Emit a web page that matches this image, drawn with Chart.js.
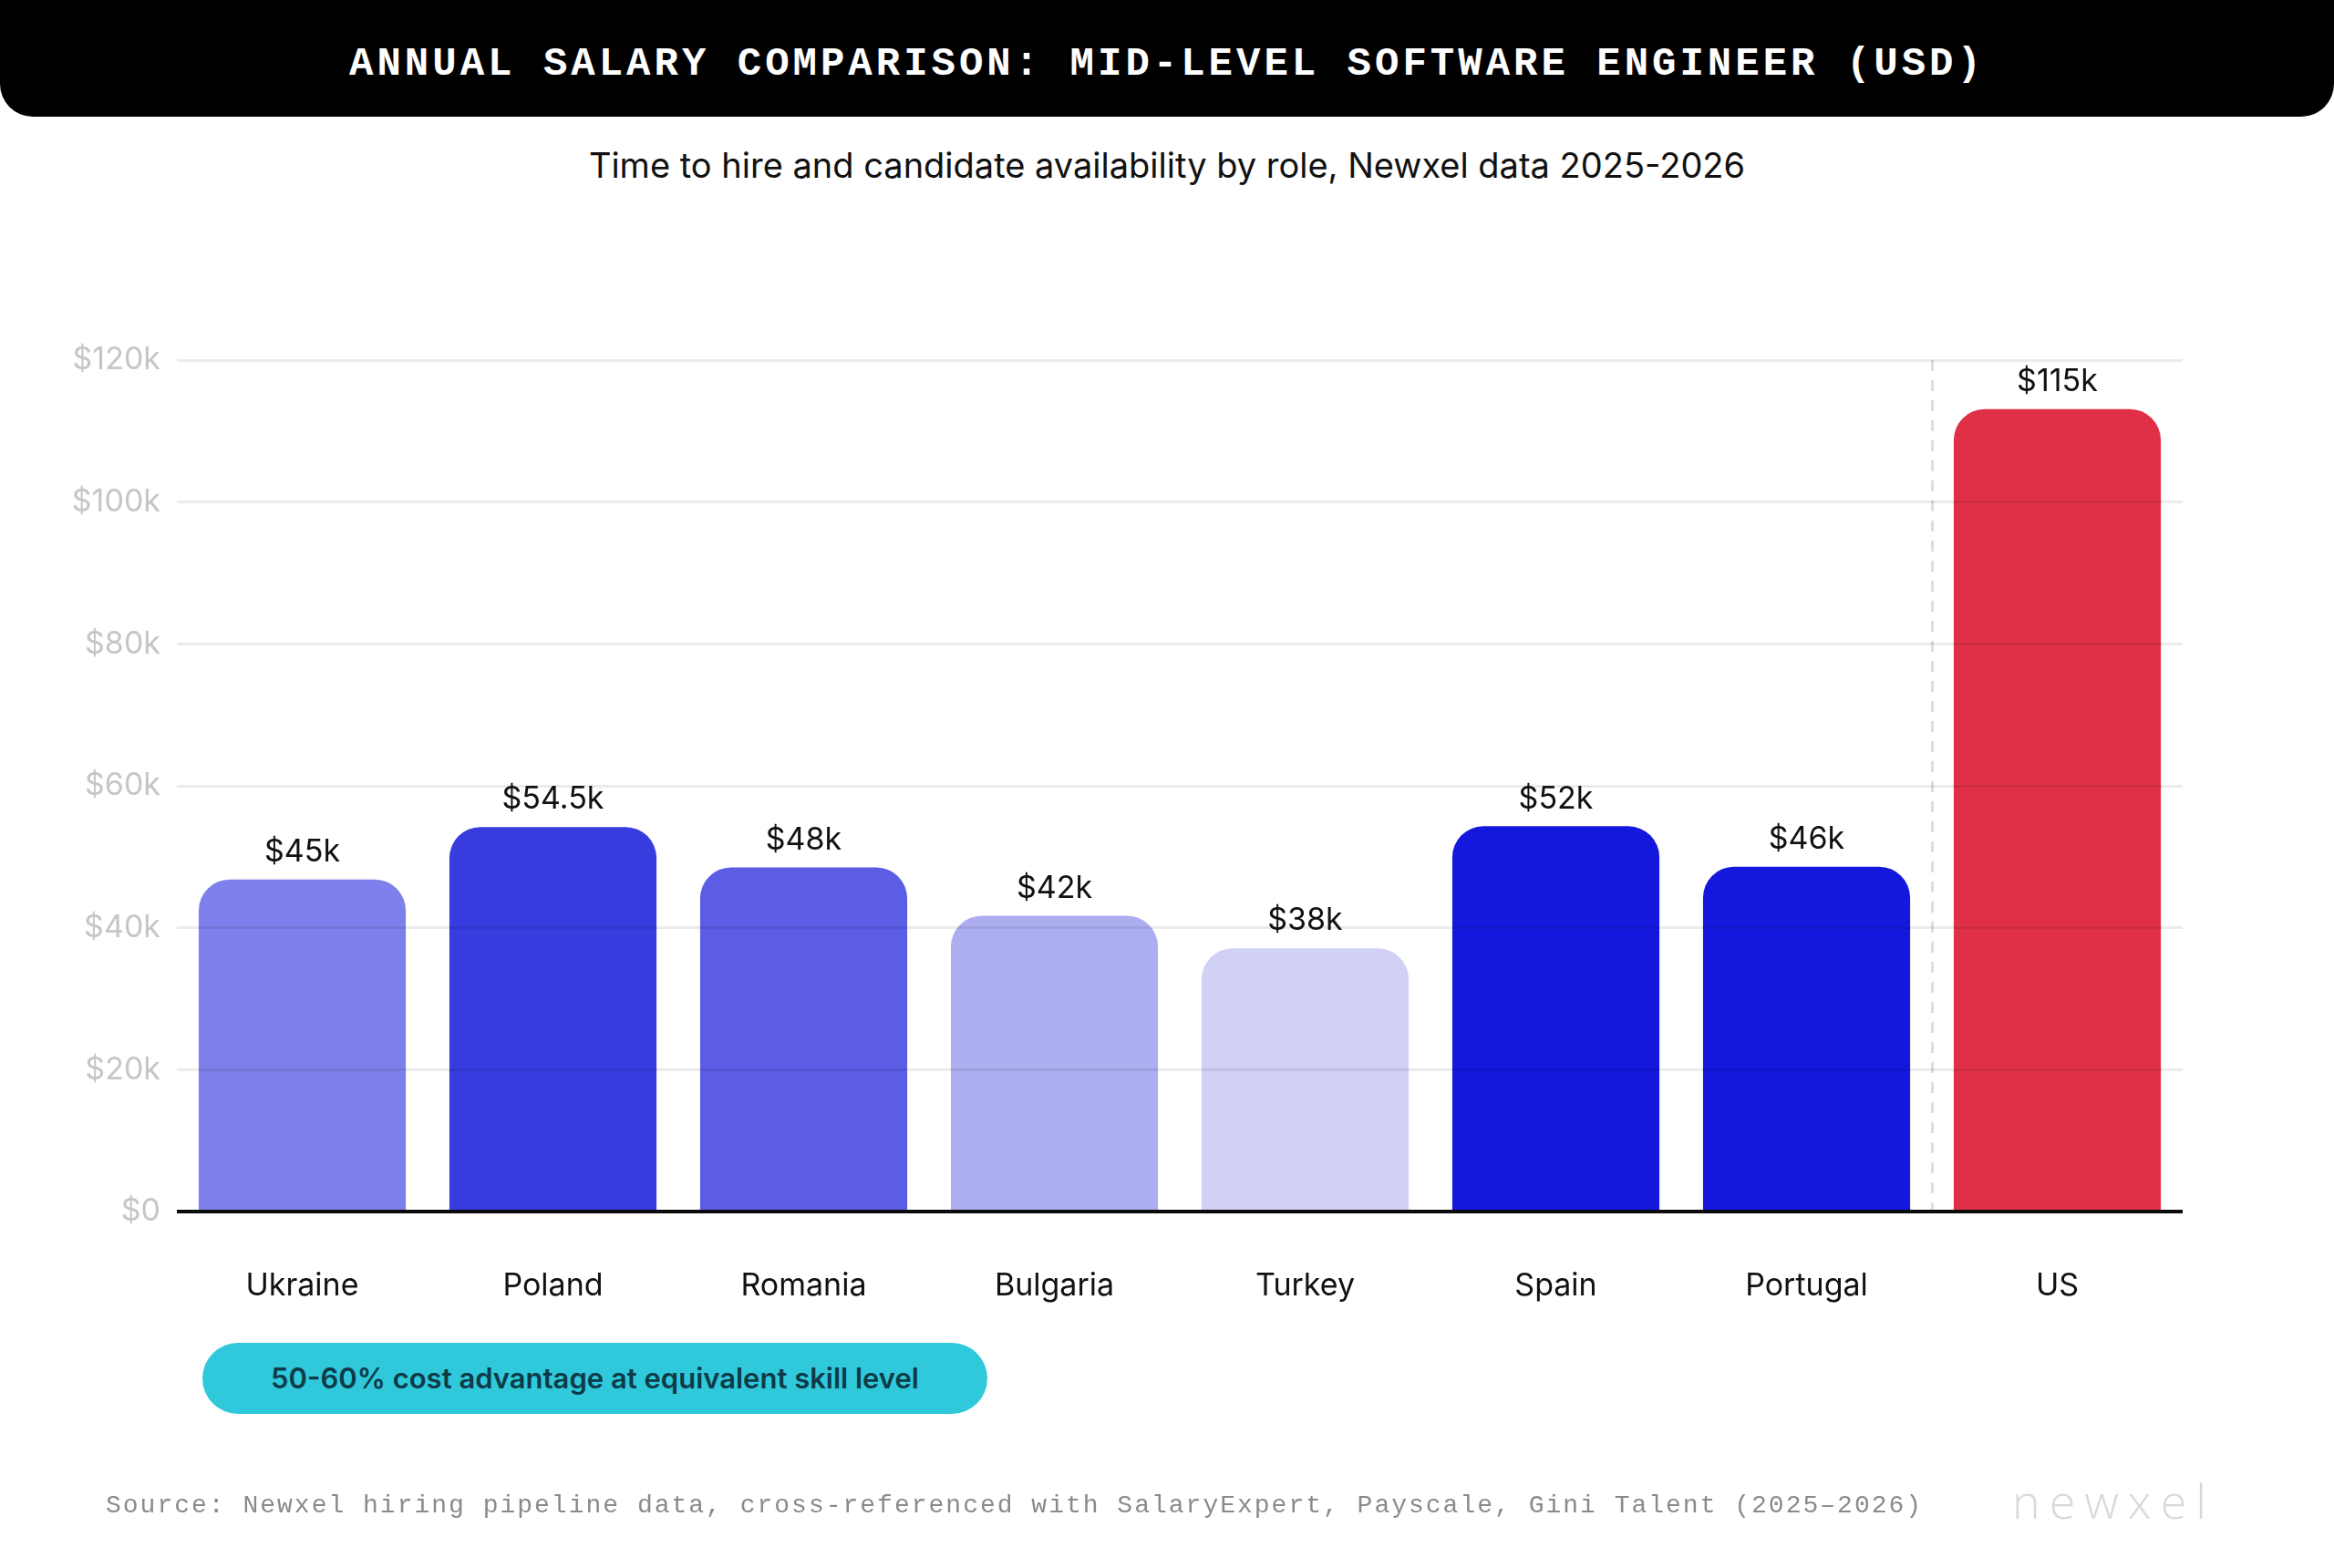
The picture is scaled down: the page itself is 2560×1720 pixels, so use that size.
<!DOCTYPE html>
<html lang="en">
<head>
  <meta charset="UTF-8">
  <title>Annual Salary Comparison</title>
  <script src="https://cdn.jsdelivr.net/npm/chart.js"></script>
  <style>
    html, body { margin: 0; padding: 0; background: #fff; }
    #page { position: relative; width: 2560px; height: 1720px; overflow: hidden; background: #fff; }
    #header {
      position: absolute; left: 0; top: 0; width: 2560px; height: 128px;
      background: #000; border-radius: 0 0 36px 36px;
      color: #fff; font-family: "Liberation Mono", "DejaVu Sans Mono", monospace;
      font-weight: bold; font-size: 44px; letter-spacing: 4px;
      text-align: center; line-height: 140px;
    }
    #subtitle {
      position: absolute; left: 0; top: 155px; width: 2560px; text-align: center;
      font-family: Inter, "Noto Sans", sans-serif; font-size: 38px; line-height: 52px; color: #111;
    }
    #salaryChart { position: absolute; left: 0; top: 0; }
    #pill {
      position: absolute; left: 222px; top: 1473px; width: 861px; height: 78px;
      border-radius: 39px; background: #30c9dc; color: #0d3b47;
      font-family: Inter, "Noto Sans", sans-serif; font-weight: 600; font-size: 31px;
      line-height: 78px; text-align: center;
    }
    #source {
      position: absolute; left: 116px; top: 1634px;
      font-family: "Liberation Mono", "DejaVu Sans Mono", monospace;
      font-size: 28px; letter-spacing: 2px; color: #8a8a8a; line-height: 36px; white-space: nowrap;
    }
    #logo {
      position: absolute; left: 2207px; top: 1616px;
      font-family: "Open Sans", Lato, sans-serif; font-weight: 300; font-size: 52px;
      letter-spacing: 10px; color: #d9d9d9; line-height: 60px;
    }
  </style>
</head>
<body>
<div id="page">
  <div id="header">ANNUAL SALARY COMPARISON: MID-LEVEL SOFTWARE ENGINEER (USD)</div>
  <div id="subtitle">Time to hire and candidate availability by role, Newxel data 2025-2026</div>
  <canvas id="salaryChart" width="2560" height="1720"></canvas>
  <div id="pill">50-60% cost advantage at equivalent skill level</div>
  <div id="source">Source: Newxel hiring pipeline data, cross-referenced with SalaryExpert, Payscale, Gini Talent (2025–2026)</div>
  <div id="logo">newxel</div>
</div>

<script>
  // 國家與數值（單位：千美元）
  const countries = ['Ukraine', 'Poland', 'Romania', 'Bulgaria', 'Turkey', 'Spain', 'Portugal', 'US'];
  const salaries = [46.8, 54.2, 48.5, 41.7, 37.1, 54.3, 48.6, 113.1];
  const valueLabels = ['$45k', '$54.5k', '$48k', '$42k', '$38k', '$52k', '$46k', '$115k'];
  const barColors = ['#7d80ea', '#383cdf', '#5b5de4', '#adaef0', '#d1d1f5', '#1418dc', '#1418dc', '#e03048'];
  const yTicks = [0, 20, 40, 60, 80, 100, 120];

  // 在柱狀圖上方畫數值標籤
  const valueLabelPlugin = {
    id: 'valueLabels',
    afterDraw(chart) {
      const ctx = chart.ctx;
      const meta = chart.getDatasetMeta(0);
      ctx.save();
      ctx.font = '34px Inter, "Noto Sans", sans-serif';
      ctx.fillStyle = '#111';
      ctx.textAlign = 'center';
      ctx.textBaseline = 'middle';
      meta.data.forEach((bar, i) => {
        ctx.fillText(valueLabels[i], bar.x, bar.y - 30);
      });
      ctx.restore();
    }
  };

  const ctx = document.getElementById('salaryChart').getContext('2d');
  const salaryChart = new Chart(ctx, {
    type: 'bar',
    data: {
      labels: countries,
      datasets: [{
        data: salaries,
        backgroundColor: barColors,
        borderRadius: { topLeft: 34, topRight: 34 },
        borderSkipped: 'start',
        categoryPercentage: 1,
        barPercentage: 0.826
      }]
    },
    options: {
      responsive: false,
      devicePixelRatio: 1,
      animation: false,
      layout: { padding: { left: 44, right: 166, top: 395, bottom: 271 } },
      plugins: {
        legend: { display: false },
        tooltip: { enabled: false }
      },
      scales: {
        x: {
          afterFit: (scale) => { scale.height = 120; },
          grid: {
            drawTicks: false,
            lineWidth: 3,
            color: (c) => c.index === 7 ? '#dedede' : 'rgba(0,0,0,0)'
          },
          border: { display: false, dash: [12, 10] },
          ticks: {
            padding: 61,
            color: '#111',
            font: { family: 'Inter, "Noto Sans", sans-serif', size: 34 }
          }
        },
        y: {
          min: 0,
          max: 120,
          afterFit: (scale) => { scale.width = 150; },
          afterBuildTicks: (scale) => { scale.ticks = yTicks.map(v => ({ value: v })); },
          grid: {
            z: 1,
            drawTicks: false,
            color: (c) => c.tick && c.tick.value === 0 ? '#0a0a0a' : 'rgba(0,0,0,0.08)',
            lineWidth: (c) => c.tick && c.tick.value === 0 ? 4 : 3
          },
          border: { display: false },
          ticks: {
            padding: 18,
            color: '#c6c6c6',
            font: { family: 'Inter, "Noto Sans", sans-serif', size: 34 },
            callback: (v) => '$' + v + (v === 0 ? '' : 'k')
          }
        }
      }
    },
    plugins: [valueLabelPlugin]
  });
</script>
</body>
</html>
